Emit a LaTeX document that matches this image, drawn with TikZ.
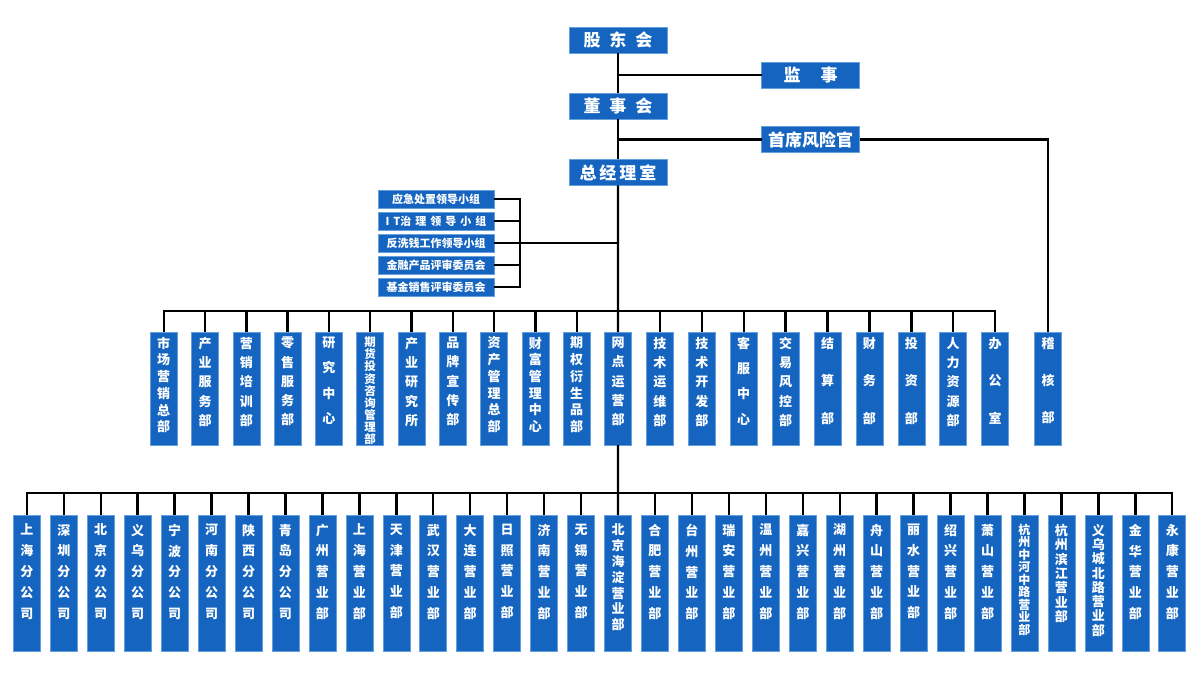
\documentclass[tikz,border=0pt]{standalone}
\usepackage{fontspec}
\setmainfont{Noto Sans CJK SC}
\usetikzlibrary{positioning}
\definecolor{boxblue}{RGB}{21,101,192}
\definecolor{boxline}{RGB}{100,160,220}
% vertical column text: [font size]{line pitch}{chars}
\newcommand\dtxt[3][13]{\parbox[c][103pt][t]{18pt}{\centering\fontsize{#1}{#2}\selectfont #3}}
\newcommand\btxt[3][13]{\parbox[c][118pt][t]{18pt}{\centering\fontsize{#1}{#2}\selectfont #3}}
\tikzset{
  box/.style={draw=boxline, fill=boxblue, text=white, line width=0.6pt, inner sep=0pt, outer sep=0pt, font=\bfseries},
  top/.style={box, minimum width=98pt, minimum height=26pt, font=\fontsize{17}{20}\selectfont\bfseries},
  cmte/.style={box, minimum width=116pt, minimum height=18pt, font=\fontsize{11}{13}\selectfont\bfseries},
  dept/.style={box, minimum width=27pt, inner ysep=5pt},
  branch/.style={box, minimum width=27pt, inner ysep=9pt},
  link/.style={line width=2.4pt, black}
}
\begin{document}
\begin{tikzpicture}[x=1pt, y=-1pt]
\path[use as bounding box, fill=white] (0,0) rectangle (1200,679);

% Top level
\node[top] (sh) at (618,40) {股\hspace{9pt}东\hspace{9pt}会};
\node[top] (sup) at (810.5,75) {监\hspace{20pt}事};
\node[top] (bd) at (618,106) {董\hspace{9pt}事\hspace{9pt}会};
\node[top] (cro) at (810.5,139.5) {首席风险官};
\node[top] (gm) at (618,172.5) {总\hspace{3pt}经\hspace{3pt}理\hspace{3pt}室};

% Committees
\begin{scope}[node distance=4pt]
\node[cmte] (c1) at (436,199) {应急处置领导小组};
\node[cmte, below=of c1] (c2) {I\hspace{4pt}T治\hspace{4pt}理\hspace{4pt}领\hspace{4pt}导\hspace{4pt}小\hspace{4pt}组};
\node[cmte, below=of c2] (c3) {反洗钱工作领导小组};
\node[cmte, below=of c3] (c4) {金融产品评审委员会};
\node[cmte, below=of c4] (c5) {基金销售评审委员会};
\end{scope}

% Departments
\begin{scope}[node distance=14.3pt]
\node[dept] (d1) at (163.7,388.5) {\dtxt{16.7pt}{市\\场\\营\\销\\总\\部}};
\node[dept, right=of d1] (d2) {\dtxt{19.3pt}{产\\业\\服\\务\\部}};
\node[dept, right=of d2] (d3) {\dtxt{19.3pt}{营\\销\\培\\训\\部}};
\node[dept, right=of d3] (d4) {\dtxt{19.3pt}{零\\售\\服\\务\\部}};
\node[dept, right=of d4] (d5) {\dtxt{25.3pt}{研\\究\\中\\心}};
\node[dept, right=of d5] (d6) {\dtxt[11.5]{12.1pt}{期\\货\\投\\资\\咨\\询\\管\\理\\部}};
\node[dept, right=of d6] (d7) {\dtxt{19.3pt}{产\\业\\研\\究\\所}};
\node[dept, right=of d7] (d8) {\dtxt{19.3pt}{品\\牌\\宣\\传\\部}};
\node[dept, right=of d8] (d9) {\dtxt{16.7pt}{资\\产\\管\\理\\总\\部}};
\node[dept, right=of d9] (d10) {\dtxt{16.7pt}{财\\富\\管\\理\\中\\心}};
\node[dept, right=of d10] (d11) {\dtxt{16.7pt}{期\\权\\衍\\生\\品\\部}};
\node[dept, right=of d11] (d12) {\dtxt{19.3pt}{网\\点\\运\\营\\部}};
\end{scope}
\begin{scope}[node distance=14.9pt]
\node[dept, right=of d12] (d13) {\dtxt{19.3pt}{技\\术\\运\\维\\部}};
\node[dept, right=of d13] (d14) {\dtxt{19.3pt}{技\\术\\开\\发\\部}};
\node[dept, right=of d14] (d15) {\dtxt{25.3pt}{客\\服\\中\\心}};
\node[dept, right=of d15] (d16) {\dtxt{19.3pt}{交\\易\\风\\控\\部}};
\node[dept, right=of d16] (d17) {\dtxt{37.5pt}{结\\算\\部}};
\node[dept, right=of d17] (d18) {\dtxt{37.5pt}{财\\务\\部}};
\node[dept, right=of d18] (d19) {\dtxt{37.5pt}{投\\资\\部}};
\node[dept, right=of d19] (d20) {\dtxt{19.3pt}{人\\力\\资\\源\\部}};
\node[dept, right=of d20] (d21) {\dtxt{37.5pt}{办\\公\\室}};
\end{scope}
\node[dept] (audit) at (1048,388.5) {\dtxt{37pt}{稽\\核\\部}};

% Branches
\begin{scope}[node distance=9.95pt]
\node[branch] (b1) at (26.8,583) {\btxt{20.8pt}{上\\海\\分\\公\\司}};
\node[branch, right=of b1] (b2) {\btxt{20.8pt}{深\\圳\\分\\公\\司}};
\node[branch, right=of b2] (b3) {\btxt{20.8pt}{北\\京\\分\\公\\司}};
\node[branch, right=of b3] (b4) {\btxt{20.8pt}{义\\乌\\分\\公\\司}};
\node[branch, right=of b4] (b5) {\btxt{20.8pt}{宁\\波\\分\\公\\司}};
\node[branch, right=of b5] (b6) {\btxt{20.8pt}{河\\南\\分\\公\\司}};
\node[branch, right=of b6] (b7) {\btxt{20.8pt}{陕\\西\\分\\公\\司}};
\node[branch, right=of b7] (b8) {\btxt{20.8pt}{青\\岛\\分\\公\\司}};
\node[branch, right=of b8] (b9) {\btxt{20.8pt}{广\\州\\营\\业\\部}};
\node[branch, right=of b9] (b10) {\btxt{20.8pt}{上\\海\\营\\业\\部}};
\node[branch, right=of b10] (b11) {\btxt{20.8pt}{天\\津\\营\\业\\部}};
\node[branch, right=of b11] (b12) {\btxt{20.8pt}{武\\汉\\营\\业\\部}};
\node[branch, right=of b12] (b13) {\btxt{20.8pt}{大\\连\\营\\业\\部}};
\node[branch, right=of b13] (b14) {\btxt{20.8pt}{日\\照\\营\\业\\部}};
\node[branch, right=of b14] (b15) {\btxt{20.8pt}{济\\南\\营\\业\\部}};
\node[branch, right=of b15] (b16) {\btxt{20.8pt}{无\\锡\\营\\业\\部}};
\node[branch, right=of b16] (b17) {\btxt{15.8pt}{北\\京\\海\\淀\\营\\业\\部}};
\node[branch, right=of b17] (b18) {\btxt{20.8pt}{合\\肥\\营\\业\\部}};
\node[branch, right=of b18] (b19) {\btxt{20.8pt}{台\\州\\营\\业\\部}};
\node[branch, right=of b19] (b20) {\btxt{20.8pt}{瑞\\安\\营\\业\\部}};
\node[branch, right=of b20] (b21) {\btxt{20.8pt}{温\\州\\营\\业\\部}};
\node[branch, right=of b21] (b22) {\btxt{20.8pt}{嘉\\兴\\营\\业\\部}};
\node[branch, right=of b22] (b23) {\btxt{20.8pt}{湖\\州\\营\\业\\部}};
\node[branch, right=of b23] (b24) {\btxt{20.8pt}{舟\\山\\营\\业\\部}};
\node[branch, right=of b24] (b25) {\btxt{20.8pt}{丽\\水\\营\\业\\部}};
\node[branch, right=of b25] (b26) {\btxt{20.8pt}{绍\\兴\\营\\业\\部}};
\node[branch, right=of b26] (b27) {\btxt{20.8pt}{萧\\山\\营\\业\\部}};
\node[branch, right=of b27] (b28) {\btxt[12]{12.5pt}{杭\\州\\中\\河\\中\\路\\营\\业\\部}};
\node[branch, right=of b28] (b29) {\btxt{14.4pt}{杭\\州\\滨\\江\\营\\业\\部}};
\node[branch, right=of b29] (b30) {\btxt{14.3pt}{义\\乌\\城\\北\\路\\营\\业\\部}};
\node[branch, right=of b30] (b31) {\btxt{20.8pt}{金\\华\\营\\业\\部}};
\node[branch, right=of b31] (b32) {\btxt{20.8pt}{永\\康\\营\\业\\部}};
\end{scope}

% Lines
\coordinate[right=26pt of c3.east] (cj);
\coordinate[above=21pt of d12.north] (dbus);
\coordinate[above=22pt of b17.north] (bbus);
\draw[link] (sh.south) -- (bd.north);
\draw[link] (bd.south) -- (gm.north);
\draw[link] (gm.south) -- (d12.north);
\draw[link] (d12.south) -- (b17.north);
\draw[link] (sup.west) -- (sup.west -| sh.south);
\draw[link] (cro.west) -- (cro.west -| bd.south);
\draw[link] (cro.east) -| (audit.north);
\foreach \n in {c1,c2,c3,c4,c5}
  \draw[link] (\n.east) -| (cj);
\draw[link] (c3.east) -- (c3.east -| gm.south);
\foreach \i in {1,...,21}
  \draw[link] (d\i.north) |- (dbus);
\foreach \i in {1,...,32}
  \draw[link] (b\i.north) |- (bbus);

\end{tikzpicture}
\end{document}
